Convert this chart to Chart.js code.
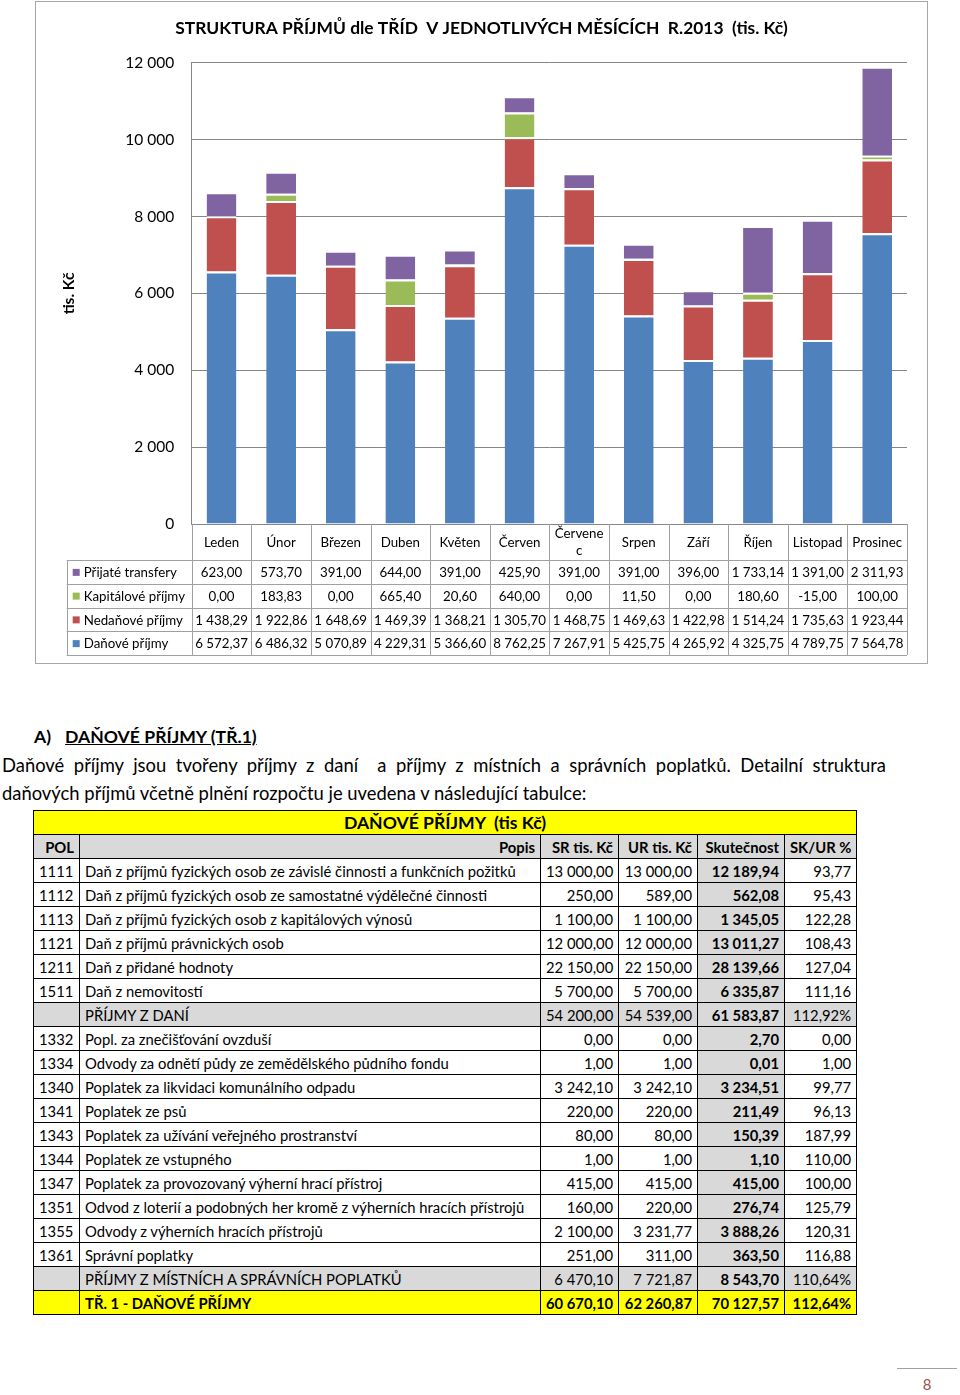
<!DOCTYPE html>
<html lang="cs">
<head>
<meta charset="UTF-8">
<title>Struktura příjmů 2013</title>
<script src="https://cdn.jsdelivr.net/npm/chart.js"></script>
<style>
  body { margin: 0; background: #fff; font-family: Lato, "Open Sans", sans-serif; color: #000; }
  #page { position: relative; width: 960px; height: 1395px; }
  #chartBox { position: absolute; left: 35px; top: 1px; width: 893px; height: 663px; border: 1px solid #a6a6a6; box-sizing: border-box; }
  #chartBox canvas { position: absolute; left: 0; top: 0; }
  #heading { position: absolute; left: 34px; top: 726px; font-size: 17.6px; line-height: 22px; font-weight: bold; }
  #heading u { margin-left: 14px; }
  .para { position: absolute; left: 2px; font-size: 18.4px; line-height: 26px; }
  #line1 { top: 752px; width: 884px; text-align: justify; text-align-last: justify; }
  #line2 { top: 780px; }
  #taxTable { position: absolute; left: 33px; top: 810px; width: 823px; border-collapse: collapse; table-layout: fixed; font-size: 14.8px; }
  #taxTable td { border: 1px solid #000; height: 23px; padding: 0 5px; white-space: nowrap; overflow: hidden; }
  #taxTable .num { text-align: right; }
  #taxTable .skut { background: #d9d9d9; font-weight: bold; }
  #taxTable tr.head td { background: #d9d9d9; font-weight: bold; text-align: right; }
  #taxTable tr.title td { background: #ffff00; font-weight: bold; text-align: center; font-size: 17.6px; }
  #taxTable tr.sum td { background: #d9d9d9; }
  #taxTable tr.total td { background: #ffff00; font-weight: bold; }
  #pageNo { position: absolute; left: 897px; top: 1368px; width: 60px; border-top: 1px solid #a0a0a0; text-align: center; color: #a0504d; font-size: 15px; padding-top: 6px; }
</style>
</head>
<body>
<div id="page">
  <div id="chartBox"><canvas id="incomeChart" width="891" height="661"></canvas></div>

  <div id="heading">A)<u>DAŇOVÉ PŘÍJMY (TŘ.1)</u></div>
  <div class="para" id="line1">Daňové příjmy jsou tvořeny příjmy z&nbsp;daní &nbsp;a příjmy z&nbsp;místních a správních poplatků. Detailní struktura</div>
  <div class="para" id="line2">daňových příjmů včetně plnění rozpočtu je uvedena v následující tabulce:</div>

  <table id="taxTable">
    <colgroup><col style="width:46px"><col style="width:461px"><col style="width:78px"><col style="width:79px"><col style="width:87px"><col style="width:72px"></colgroup>
    <tbody id="taxBody"></tbody>
  </table>

  <div id="pageNo">8</div>
</div>

<script>
// chart data (tis. Kč)
const months = ['Leden', 'Únor', 'Březen', 'Duben', 'Květen', 'Červen', ['Červene', 'c'], 'Srpen', 'Září', 'Říjen', 'Listopad', 'Prosinec'];
const danove = [6572.37, 6486.32, 5070.89, 4229.31, 5366.60, 8762.25, 7267.91, 5425.75, 4265.92, 4325.75, 4789.75, 7564.78];
const nedanove = [1438.29, 1922.86, 1648.69, 1469.39, 1368.21, 1305.70, 1468.75, 1469.63, 1422.98, 1514.24, 1735.63, 1923.44];
const kapitalove = [0, 183.83, 0, 665.40, 20.60, 640.00, 0, 11.50, 0, 180.60, -15.00, 100.00];
const transfery = [623.00, 573.70, 391.00, 644.00, 391.00, 425.90, 391.00, 391.00, 396.00, 1733.14, 1391.00, 2311.93];
const yTicks = [0, 2000, 4000, 6000, 8000, 10000, 12000];

// table data
const polCodes = ['1111', '1112', '1113', '1121', '1211', '1511', '', '1332', '1334', '1340', '1341', '1343', '1344', '1347', '1351', '1355', '1361', '', ''];
const popisy = [
  'Daň z příjmů fyzických osob ze závislé činnosti a funkčních požitků',
  'Daň z příjmů fyzických osob ze samostatné výdělečné činnosti',
  'Daň z příjmů fyzických osob z kapitálových výnosů',
  'Daň z příjmů právnických osob',
  'Daň z přidané hodnoty',
  'Daň z nemovitostí',
  'PŘÍJMY Z DANÍ',
  'Popl. za znečišťování ovzduší',
  'Odvody za odnětí půdy ze zemědělského půdního fondu',
  'Poplatek za likvidaci komunálního odpadu',
  'Poplatek ze psů',
  'Poplatek za užívání veřejného prostranství',
  'Poplatek ze vstupného',
  'Poplatek za provozovaný výherní hrací přístroj',
  'Odvod z loterií a podobných her kromě z výherních hracích přístrojů',
  'Odvody z výherních hracích přístrojů',
  'Správní poplatky',
  'PŘÍJMY Z MÍSTNÍCH A SPRÁVNÍCH POPLATKŮ',
  'TŘ. 1 - DAŇOVÉ PŘÍJMY'
];
const srValues = ['13 000,00', '250,00', '1 100,00', '12 000,00', '22 150,00', '5 700,00', '54 200,00', '0,00', '1,00', '3 242,10', '220,00', '80,00', '1,00', '415,00', '160,00', '2 100,00', '251,00', '6 470,10', '60 670,10'];
const urValues = ['13 000,00', '589,00', '1 100,00', '12 000,00', '22 150,00', '5 700,00', '54 539,00', '0,00', '1,00', '3 242,10', '220,00', '80,00', '1,00', '415,00', '220,00', '3 231,77', '311,00', '7 721,87', '62 260,87'];
const skutValues = ['12 189,94', '562,08', '1 345,05', '13 011,27', '28 139,66', '6 335,87', '61 583,87', '2,70', '0,01', '3 234,51', '211,49', '150,39', '1,10', '415,00', '276,74', '3 888,26', '363,50', '8 543,70', '70 127,57'];
const pctValues = ['93,77', '95,43', '122,28', '108,43', '127,04', '111,16', '112,92%', '0,00', '1,00', '99,77', '96,13', '187,99', '110,00', '100,00', '125,79', '120,31', '116,88', '110,64%', '112,64%'];
const rowKinds = ['', '', '', '', '', '', 'sum', '', '', '', '', '', '', '', '', '', '', 'sum', 'total'];

function czNum(v) {
  const neg = v < 0;
  const parts = Math.abs(v).toFixed(2).split('.');
  const intPart = parts[0].replace(/\B(?=(\d{3})+(?!\d))/g, ' ');
  return (neg ? '-' : '') + intPart + ',' + parts[1];
}

// build the html table
const body = document.getElementById('taxBody');
body.innerHTML =
  '<tr class="title"><td colspan="6">DAŇOVÉ PŘÍJMY &nbsp;(tis Kč)</td></tr>' +
  '<tr class="head"><td>POL</td><td>Popis</td><td>SR tis. Kč</td><td>UR tis. Kč</td><td>Skutečnost</td><td>SK/UR %</td></tr>' +
  popisy.map((p, i) =>
    `<tr class="${rowKinds[i]}"><td>${polCodes[i]}</td><td>${p}</td><td class="num">${srValues[i]}</td>` +
    `<td class="num">${urValues[i]}</td><td class="num skut">${skutValues[i]}</td><td class="num">${pctValues[i]}</td></tr>`
  ).join('');

// data table drawn under the plot, columns taken from the x scale
const dataTablePlugin = {
  id: 'dataTable',
  afterDraw(chart) {
    const ctx = chart.ctx;
    const xs = chart.scales.x;
    const area = chart.chartArea;
    const n = chart.data.labels.length;
    const colW = xs.getPixelForValue(1) - xs.getPixelForValue(0);
    const top = area.bottom;
    const headH = 36;
    const rowH = 23.75;
    const tableLeft = 30.7;
    const rows = chart.data.datasets.slice().reverse();
    const bottom = top + headH + rowH * rows.length;

    ctx.save();
    ctx.strokeStyle = '#a0a0a0';
    ctx.lineWidth = 1;
    ctx.beginPath();
    for (let i = 0; i <= n; i++) {
      const px = Math.round(area.left + i * colW) + 0.5;
      ctx.moveTo(px, top);
      ctx.lineTo(px, bottom);
    }
    ctx.moveTo(Math.round(tableLeft) + 0.5, top + headH);
    ctx.lineTo(Math.round(tableLeft) + 0.5, bottom);
    for (let r = 0; r <= rows.length; r++) {
      const py = Math.round(top + headH + r * rowH) + 0.5;
      ctx.moveTo(tableLeft, py);
      ctx.lineTo(area.right, py);
    }
    ctx.stroke();

    ctx.fillStyle = '#000';
    ctx.font = '13.3px Lato';
    ctx.textAlign = 'center';
    ctx.textBaseline = 'middle';
    chart.data.labels.forEach((lab, i) => {
      const cx = xs.getPixelForValue(i);
      if (Array.isArray(lab)) {
        ctx.fillText(lab[0], cx, top + 10);
        ctx.fillText(lab[1], cx, top + 27);
      } else {
        ctx.fillText(lab, cx, top + headH / 2 + 1);
      }
    });

    rows.forEach((ds, r) => {
      const cy = top + headH + r * rowH + rowH / 2 + 1;
      ctx.fillStyle = ds.backgroundColor;
      ctx.fillRect(tableLeft + 6, cy - 4, 7, 7);
      ctx.fillStyle = '#000';
      ctx.textAlign = 'left';
      ctx.fillText(ds.label, tableLeft + 17, cy);
      ctx.textAlign = 'center';
      ds.data.forEach((v, i) => {
        ctx.fillText(czNum(v), xs.getPixelForValue(i), cy);
      });
    });
    ctx.restore();
  }
};

const segBorder = { top: 2, right: 0, bottom: 0, left: 0 };
function series(label, data, color) {
  return {
    label: label,
    data: data,
    backgroundColor: color,
    borderColor: '#ffffff',
    borderWidth: segBorder,
    borderSkipped: false,
    barPercentage: 0.5,
    categoryPercentage: 1
  };
}

Chart.defaults.font.family = 'Lato';
Chart.defaults.color = '#000';

new Chart(document.getElementById('incomeChart'), {
  type: 'bar',
  data: {
    labels: months,
    datasets: [
      series('Daňové příjmy', danove, '#4f81bd'),
      series('Nedaňové příjmy', nedanove, '#c0504d'),
      series('Kapitálové příjmy', kapitalove, '#9bbb59'),
      series('Přijaté transfery', transfery, '#8064a2')
    ]
  },
  options: {
    responsive: false,
    devicePixelRatio: 1,
    animation: false,
    layout: { padding: { left: 20, right: 20, top: 0, bottom: 139 } },
    plugins: {
      legend: { display: false },
      tooltip: { enabled: false },
      title: {
        display: true,
        text: 'STRUKTURA PŘÍJMŮ dle TŘÍD  V JEDNOTLIVÝCH MĚSÍCÍCH  R.2013  (tis. Kč)',
        color: '#000',
        font: { size: 17.4, weight: 'bold' },
        padding: { top: 15.5, bottom: 24.6 }
      }
    },
    scales: {
      x: { display: false, stacked: true },
      y: {
        stacked: true,
        min: 0,
        max: 12000,
        afterBuildTicks(scale) { scale.ticks = yTicks.map(v => ({ value: v })); },
        afterFit(scale) { scale.width = 135.7; },
        ticks: {
          padding: 17.5,
          color: '#000',
          font: { size: 15.5 },
          callback: v => String(v).replace(/\B(?=(\d{3})+(?!\d))/g, ' ')
        },
        grid: { color: '#868686', drawTicks: false },
        border: { display: true, color: '#868686' },
        title: { display: true, text: 'tis. Kč', color: '#000', font: { size: 15.5, weight: 'bold' } }
      }
    }
  },
  plugins: [dataTablePlugin]
});
</script>
</body>
</html>
